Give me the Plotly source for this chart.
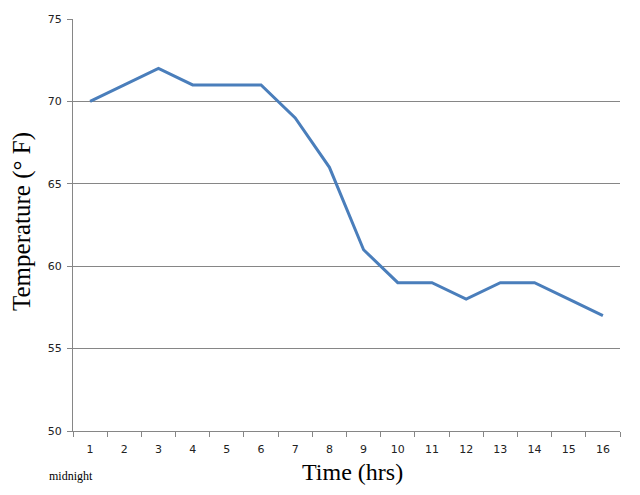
import plotly.graph_objects as go

hours = [str(i) for i in range(1, 17)]
temps = [70, 71, 72, 71, 71, 71, 69, 66, 61, 59, 59, 58, 59, 59, 58, 57]
y_ticks = [50, 55, 60, 65, 70, 75]

# page body has an 8px offset; target plot area in window px: x 73..620, y 19..431
OFF = 8
L, T, R, B = 73, 19, 620, 431
W, H = 640, 495
pw, ph = R - L, B - T

fig = go.Figure()
fig.add_trace(go.Scatter(x=hours, y=temps, mode="lines",
                         line=dict(color="#4A7EBB", width=3), showlegend=False))

def px(x):
    return (x - L) / pw

def py(y):
    return (B - y) / ph

fig.update_layout(
    width=W, height=H,
    margin=dict(l=L - OFF, r=W - (R - OFF), t=T - OFF, b=H - (B - OFF)),
    paper_bgcolor="white", plot_bgcolor="white",
    font=dict(family="DejaVu Sans", size=11, color="#222"),
    xaxis=dict(type="category", range=[-0.5, 15.5], tickson="boundaries",
               ticks="outside", ticklen=5, tickcolor="#868686",
               showline=True, linecolor="#868686", linewidth=1,
               showgrid=False, ticklabelstandoff=8, fixedrange=True),
    yaxis=dict(range=[50, 75], tickvals=y_ticks, ticks="outside", ticklen=5,
               tickcolor="#868686", showline=True, linecolor="#868686",
               linewidth=1, showgrid=True, gridcolor="#868686", gridwidth=1,
               zeroline=False, ticklabelstandoff=3, automargin=False),
    annotations=[
        dict(text="Time (hrs)", x=px(352), y=py(472), xref="paper", yref="paper",
             xanchor="center", yanchor="middle", showarrow=False,
             font=dict(family="Liberation Serif", size=24, color="black")),
        dict(text="Temperature (° F)", x=px(22), y=py(222), xref="paper", yref="paper",
             xanchor="center", yanchor="middle", textangle=-90, showarrow=False,
             font=dict(family="Liberation Serif", size=25, color="black")),
        dict(text="midnight", x=px(47), y=py(476), xref="paper", yref="paper",
             xanchor="left", yanchor="middle", showarrow=False,
             font=dict(family="Liberation Serif", size=12, color="black")),
    ],
)
fig.update_xaxes(automargin=False)

fig.write_html("out.html")
